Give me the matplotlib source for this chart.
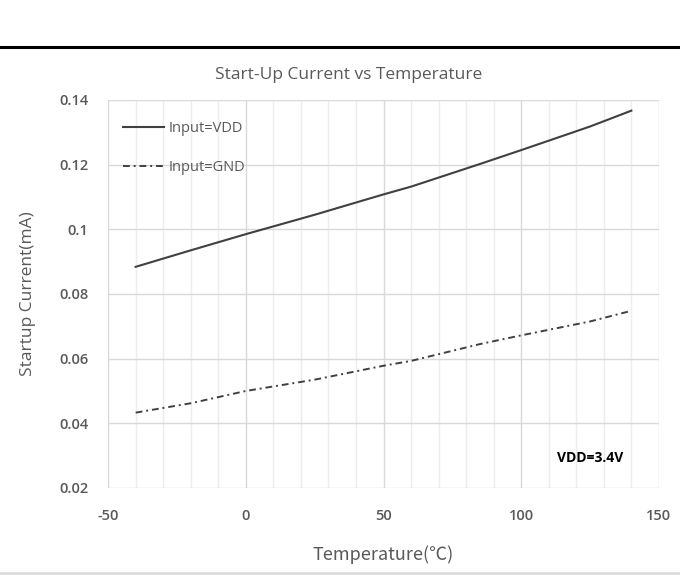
#!/usr/bin/env python3
# -*- coding: utf-8 -*-
"""
Start-up current vs temperature, redrawn from the datasheet figure.

Usage:
  python plot.py
"""

from pathlib import Path

import matplotlib
matplotlib.use("Agg")
import matplotlib.pyplot as plt
from matplotlib.lines import Line2D

# data
temp_c = [-40, -20, 0, 25, 50, 60, 85, 100, 125, 140]
input_vdd_ma = [0.0884, 0.0935, 0.0985, 0.1045, 0.1108, 0.1132, 0.1202, 0.1245, 0.1318, 0.1367]
input_gnd_ma = [0.0433, 0.0462, 0.0500, 0.0535, 0.0578, 0.0593, 0.0645, 0.0672, 0.0715, 0.0748]

x_ticks = [-50, 0, 50, 100, 150]
x_minor = list(range(-50, 151, 10))
y_ticks = [0.02, 0.04, 0.06, 0.08, 0.1, 0.12, 0.14]
y_tick_labels = ["0.02", "0.04", "0.06", "0.08", "0.1", "0.12", "0.14"]

TEXT_GREY = "#595959"
LINE_COL = "#404040"


def main() -> None:
    plt.rcParams["font.family"] = ["Open Sans", "Noto Sans CJK SC", "DejaVu Sans"]
    plt.rcParams["axes.unicode_minus"] = False

    fig = plt.figure(figsize=(6.8, 5.83), dpi=100)
    ax = fig.add_axes([0.159, 0.163, 0.810, 0.6655])

    ax.plot(temp_c, input_vdd_ma, color=LINE_COL, lw=1.5, label="Input=VDD")
    ax.plot(temp_c, input_gnd_ma, color=LINE_COL, lw=1.4,
            linestyle=(0, (3.5, 2, 1, 2)), label="Input=GND")

    ax.set_xlim(-50, 150)
    ax.set_ylim(0.02, 0.14)
    ax.set_xticks(x_ticks)
    ax.set_xticks(x_minor, minor=True)
    ax.set_yticks(y_ticks)
    ax.set_yticklabels(y_tick_labels)

    ax.grid(which="minor", axis="x", color="#ededed", lw=1.0)
    ax.grid(which="major", axis="both", color="#d9d9d9", lw=1.0)
    ax.set_axisbelow(True)
    for side in ["top", "right", "left", "bottom"]:
        ax.spines[side].set_visible(False)

    ax.tick_params(which="both", length=0)
    ax.tick_params(axis="x", pad=15, labelsize=10.5, labelcolor=TEXT_GREY)
    ax.tick_params(axis="y", pad=14, labelsize=10.5, labelcolor=TEXT_GREY)
    for lab in ax.get_xticklabels() + ax.get_yticklabels():
        lab.set_fontweight("semibold")

    ax.set_xlabel("Temperature(℃)", fontsize=13, color=TEXT_GREY, va="center",
                  family=["Noto Sans CJK SC", "DejaVu Sans"])
    ax.xaxis.set_label_coords(0.5, -0.173)
    ax.set_ylabel("Startup Current(mA)", fontsize=12.5, color=TEXT_GREY, va="center")
    ax.yaxis.set_label_coords(-0.145, 0.5)

    ax.legend(loc="upper left", bbox_to_anchor=(0.027, 0.945), frameon=False,
              fontsize=10.5, handlelength=2.8, handletextpad=0.3,
              labelspacing=1.65, borderpad=0, borderaxespad=0,
              labelcolor=TEXT_GREY)

    ax.text(137, 0.0293, "VDD=3.4V", ha="right", va="center",
            fontsize=10, fontweight="bold", color="black")

    fig.text(0.512, 0.872, "Start-Up Current vs Temperature", ha="center",
             va="center", fontsize=12.5, color=TEXT_GREY)

    # page rules above and below the chart box
    fig.add_artist(Line2D([0, 1], [1 - 47 / 583] * 2, transform=fig.transFigure,
                          color="black", lw=2.2))
    fig.add_artist(Line2D([0, 1], [1 - 573 / 583] * 2, transform=fig.transFigure,
                          color="#d9d9d9", lw=1.8))

    out_path = Path("out.png")
    fig.savefig(out_path, dpi=100)
    print(f"[OK] Saved plot -> {out_path}")


if __name__ == "__main__":
    main()
